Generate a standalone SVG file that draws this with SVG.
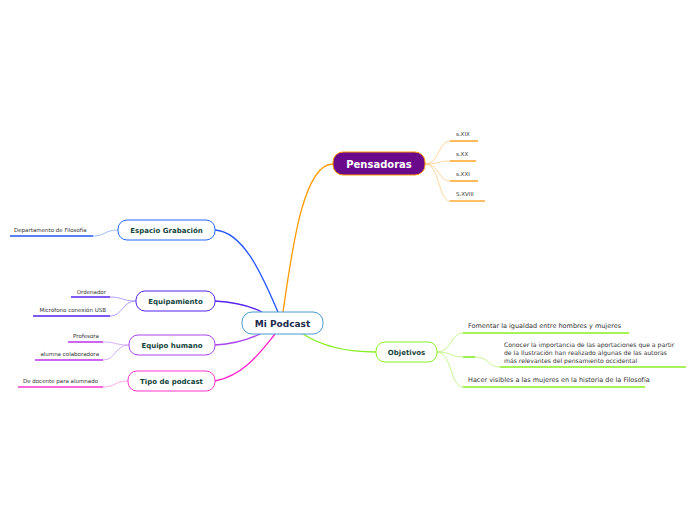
<svg xmlns="http://www.w3.org/2000/svg" width="696" height="520" viewBox="0 0 696 520">
<style>
text{font-family:"DejaVu Sans","Verdana",sans-serif}
.main{font-size:9px;font-weight:bold;fill:#1a2a4a;text-anchor:middle}
.sub{font-size:7px;font-weight:bold;fill:#13443a;text-anchor:middle}
.leaf{font-size:5.5px;fill:#333}
.leaf2{font-size:6.5px;fill:#333}
.leaf3{font-size:6.1px;fill:#333}
.c{fill:none;stroke-width:1.3}
.l{fill:none;stroke-width:0.8}
.u{fill:none;stroke-width:1.6}
</style>
<rect width="696" height="520" fill="#fff"/>
<g id="connectors">
<path class="c" stroke="#ff9900" d="M283 312 C 292 250 303 164 333 164"/>
<path class="c" stroke="#2255ff" d="M215 230 C 245 232 264 280 278 312"/>
<path class="c" stroke="#5522ee" d="M215 301 C 235 302 250 306 262 312"/>
<path class="c" stroke="#aa44ee" d="M215 345 C 235 344 250 339 262 333"/>
<path class="c" stroke="#ff22cc" d="M215 381 C 245 375 262 350 275 334"/>
<path class="c" stroke="#88ee22" d="M303 334 C 320 345 345 352 376 352"/>
<g stroke="#ffcc88" class="l">
<path d="M425 164 C 440 164 438 141 450 141"/>
<path d="M425 164 C 440 164 438 161 450 161"/>
<path d="M425 164 C 440 164 438 181 450 181"/>
<path d="M425 164 C 440 164 438 201 450 201"/>
</g>
<g stroke="#ffaa33" class="u">
<path d="M450 141 H478"/><path d="M450 161 H476"/><path d="M450 181 H478"/><path d="M450 201 H485"/>
</g>
<g stroke="#bbf077" class="l">
<path d="M437 352 C 452 352 450 333 463 333"/>
<path d="M437 352 C 452 352 450 357 463 357"/>
<path d="M437 352 C 452 352 450 387 463 387"/>
<path d="M475 357 C 490 357 487 367 500 367"/>
</g>
<g stroke="#88ee22" class="u">
<path d="M463 333 H629"/><path d="M463 357 H475"/><path d="M500 367 H686"/><path d="M463 387 H645"/>
</g>
<path class="l" stroke="#88aaff" d="M93 236 C 106 236 104 230 118 230"/>
<path class="u" stroke="#2255ee" d="M10 236 H93"/>
<g class="l" stroke="#9988ff">
<path d="M110 297 C 123 297 122 301 136 301"/>
<path d="M110 316 C 123 316 122 301 136 301"/>
</g>
<g class="u" stroke="#5522ee"><path d="M71 297 H110"/><path d="M33 316 H110"/></g>
<g class="l" stroke="#cc99f5">
<path d="M103 342 C 116 342 115 345 129 345"/>
<path d="M103 360 C 116 360 115 345 129 345"/>
</g>
<g class="u" stroke="#bb33ee"><path d="M68 342 H103"/><path d="M35 360 H103"/></g>
<path class="l" stroke="#ff99dd" d="M103 387 C 116 387 114 381 128 381"/>
<path class="u" stroke="#ff33cc" d="M18 387 H103"/>
</g>
<g id="mi-podcast">
<rect x="242" y="312" width="81" height="22" rx="10" fill="#fff" stroke="#4a9ad4" stroke-width="1"/>
<text class="main" x="282.5" y="326.5">Mi Podcast</text>
</g>
<g id="pensadoras">
<rect x="333" y="152" width="92" height="23" rx="10" fill="#6a0a8a" stroke="#ff9900" stroke-width="1"/>
<text class="main" x="379" y="167.5" style="fill:#fff;font-size:10px">Pensadoras</text>
</g>
<g id="pensadoras-leaves">
<text class="leaf" x="456" y="136">s.XIX</text>
<text class="leaf" x="456" y="156">s.XX</text>
<text class="leaf" x="456" y="176">s.XXI</text>
<text class="leaf" x="456" y="196">S.XVIII</text>
</g>
<g id="objetivos">
<rect x="376" y="342" width="61" height="20" rx="9" fill="#fff" stroke="#88ee22" stroke-width="1"/>
<text class="sub" x="406.5" y="354.5">Objetivos</text>
</g>
<g id="objetivos-leaves">
<text class="leaf2" x="468" y="328">Fomentar la igualdad entre hombres y mujeres</text>
<text class="leaf3" x="504" y="347">Conocer la importancia de las aportaciones que a partir</text>
<text class="leaf3" x="504" y="355">de la Ilustración han realizado algunas de las autoras</text>
<text class="leaf3" x="504" y="363">más relevantes del pensamiento occidental</text>
<text class="leaf2" x="468" y="382">Hacer visibles a las mujeres en la historia de la Filosofía</text>
</g>
<g id="espacio-grabacion">
<rect x="118" y="220" width="97" height="20" rx="9" fill="#fff" stroke="#2266ff" stroke-width="1"/>
<text class="sub" x="166.5" y="232.5">Espacio Grabación</text>
<text class="leaf" x="14" y="232">Departamento de Filosofía</text>
</g>
<g id="equipamiento">
<rect x="136" y="291" width="79" height="20" rx="9" fill="#fff" stroke="#5522ee" stroke-width="1"/>
<text class="sub" x="175.5" y="303.5">Equipamiento</text>
<text class="leaf" x="106" y="294" text-anchor="end">Ordenador</text>
<text class="leaf" x="106" y="312" text-anchor="end">Micrófono conexión USB</text>
</g>
<g id="equipo-humano">
<rect x="129" y="335" width="86" height="20" rx="9" fill="#fff" stroke="#aa44ee" stroke-width="1"/>
<text class="sub" x="172" y="347.5">Equipo humano</text>
<text class="leaf" x="99" y="338" text-anchor="end">Profesora</text>
<text class="leaf" x="99" y="356" text-anchor="end">alumna colaboradora</text>
</g>
<g id="tipo-de-podcast">
<rect x="128" y="371" width="87" height="20" rx="9" fill="#fff" stroke="#ff33cc" stroke-width="1"/>
<text class="sub" x="171.5" y="383.5">Tipo de podcast</text>
<text class="leaf" x="98" y="383" text-anchor="end">De docente para alumnado</text>
</g>
</svg>
